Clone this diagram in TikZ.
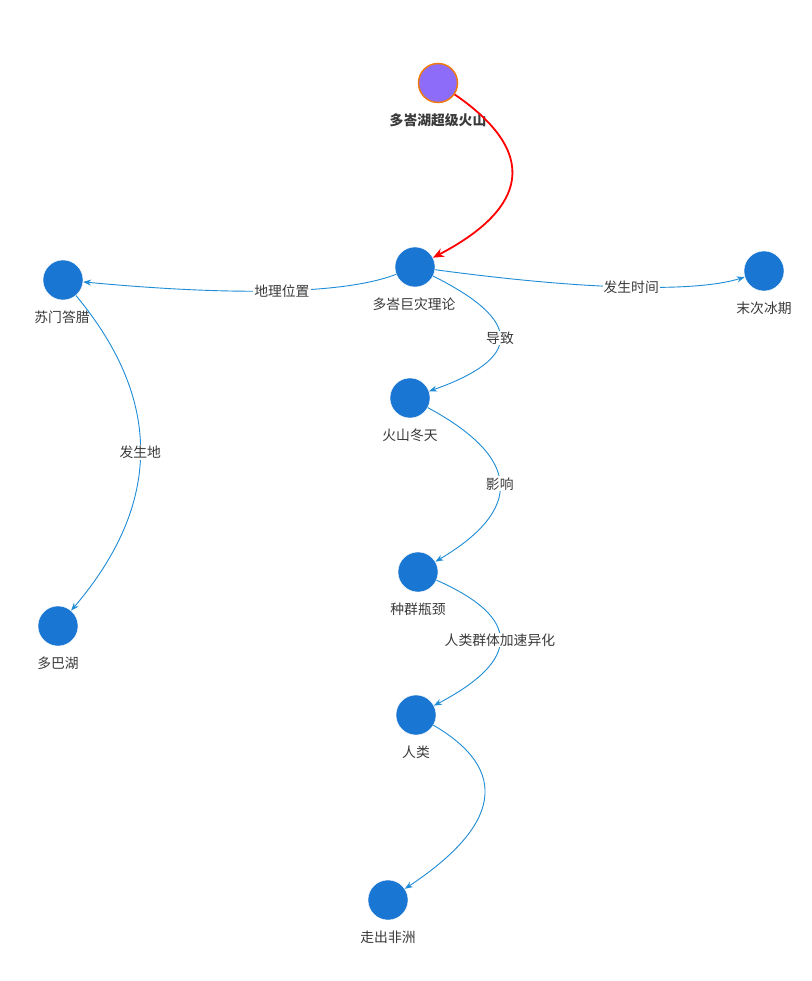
\documentclass[tikz,border=0pt]{standalone}
\usepackage{fontspec}
\setmainfont{Noto Sans CJK SC}
\usetikzlibrary{arrows.meta}
\definecolor{nodeblue}{HTML}{1976D2}
\definecolor{edgeblue}{HTML}{1E8CD6}
\definecolor{rootfill}{HTML}{8C6CF8}
\definecolor{rootborder}{HTML}{F07A10}
\definecolor{txt}{HTML}{3A3A3A}
\tikzset{
  ent/.style={circle, fill=nodeblue, draw=white, line width=0.4pt, minimum size=40pt, inner sep=0pt},
  root/.style={circle, fill=rootfill, draw=rootborder, line width=1.5pt, minimum size=39pt, inner sep=0pt},
  lbl/.style={font=\fontsize{13.8}{15}\selectfont, text=txt, inner sep=1pt},
  rootlbl/.style={font=\fontsize{13.8}{15}\selectfont\bfseries, text=txt, inner sep=1pt},
  rel/.style={draw=edgeblue, line width=0.9pt, -{Stealth[length=8pt,width=6pt]}},
  relred/.style={draw=red, line width=1.8pt, -{Stealth[length=11pt,width=9pt]}},
  elbl/.style={font=\fontsize{13.8}{15}\selectfont, text=txt, fill=white, inner sep=1pt}
}
\begin{document}
\begin{tikzpicture}[x=1pt, y=-1pt]
\useasboundingbox (0,0) rectangle (811,981);
\fill[white] (0,0) rectangle (811,981);
% nodes
\node[root] (root) at (438,83) {};
\node[rootlbl] (rootL) at (438,120) {多峇湖超级火山};
\node[ent] (theory) at (415,267) {};
\node[lbl] (theoryL) at (414,304) {多峇巨灾理论};
\node[ent] (sum) at (63,280) {};
\node[lbl] (sumL) at (62,317) {苏门答腊};
\node[ent] (ice) at (764,271) {};
\node[lbl] (iceL) at (764,308) {末次冰期};
\node[ent] (winter) at (410,398) {};
\node[lbl] (winterL) at (410,435) {火山冬天};
\node[ent] (neck) at (418,572) {};
\node[lbl] (neckL) at (418,609) {种群瓶颈};
\node[ent] (human) at (416,715) {};
\node[lbl] (humanL) at (416,752) {人类};
\node[ent] (africa) at (388,900) {};
\node[lbl] (africaL) at (388,937) {走出非洲};
\node[ent] (toba) at (58,626) {};
\node[lbl] (tobaL) at (58,663) {多巴湖};
% edges
\draw[relred] (root) .. controls (550,160) and (515,215) .. (theory);
\draw[rel] (theory) .. controls (348,293) and (244,297) .. node[elbl, pos=0.5] {地理位置} (sum);
\draw[rel] (theory) .. controls (593,291) and (697,292) .. node[elbl, pos=0.5] {发生时间} (ice);
\draw[rel] (theory) .. controls (523,321) and (523,358) .. node[elbl, pos=0.5] {导致} (winter);
\draw[rel] (winter) .. controls (521,458) and (524,509) .. node[elbl, pos=0.5] {影响} (neck);
\draw[rel] (neck) .. controls (522,618) and (521,660) .. node[elbl, pos=0.5] {人类群体加速异化} (human);
\draw[rel] (human) .. controls (510,770) and (501,825) .. (africa);
\draw[rel] (sum) .. controls (163,400) and (162,504) .. node[elbl, pos=0.5] {发生地} (toba);
\end{tikzpicture}
\end{document}
